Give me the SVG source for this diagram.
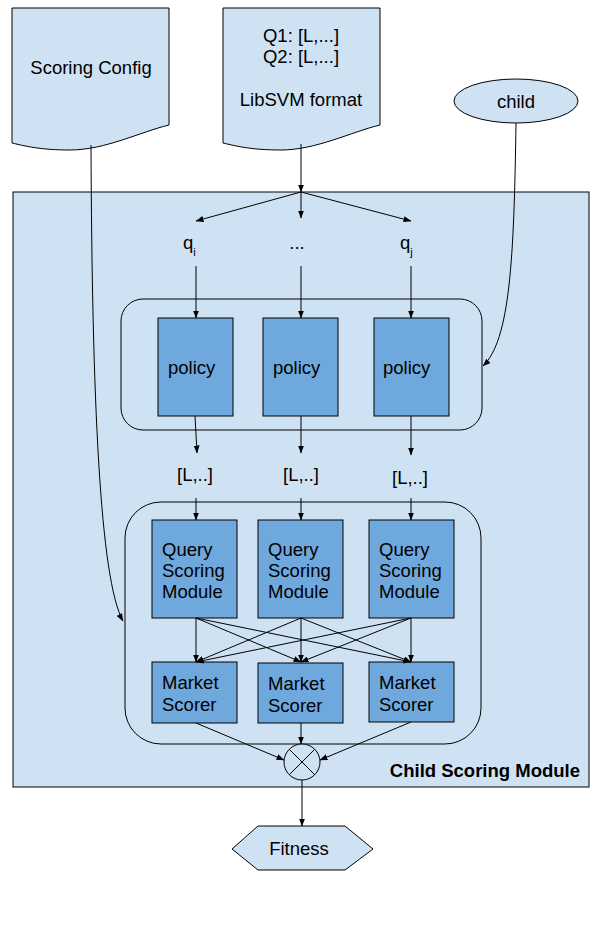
<svg xmlns="http://www.w3.org/2000/svg" width="602" height="930" viewBox="0 0 602 930">
<defs>
<marker id="ah" markerUnits="userSpaceOnUse" markerWidth="8" markerHeight="6" refX="7.5" refY="3" orient="auto">
<path d="M0,0 L8,3 L0,6 z" fill="#000"/>
</marker>
<style>
text{font-family:"Liberation Sans",Arial,sans-serif;font-size:18.5px;fill:#000}
.c{text-anchor:middle}
.doc{fill:#cfe2f3;stroke:#000;stroke-width:1}
.box{fill:#6fa8dc;stroke:#000;stroke-width:1}
.grp{fill:none;stroke:#000;stroke-width:1}
.ln{fill:none;stroke:#000;stroke-width:1}
.ar{fill:none;stroke:#000;stroke-width:1;marker-end:url(#ah)}
.b{font-weight:bold;text-anchor:end}
</style>
</defs>
<rect width="602" height="930" fill="#fff"/>
<g id="container">
<rect x="13" y="192" width="576" height="595" fill="#cfe2f3" stroke="#000" stroke-width="1"/>
<text class="b" x="580" y="777">Child Scoring Module</text>
</g>
<g id="scoring-config">
<path class="doc" d="M12,8 H169 V125 C140,132 105,150 70,150 C40,150 25,146 12,143 Z"/>
<text class="c" x="91" y="74">Scoring Config</text>
</g>
<g id="libsvm">
<path class="doc" d="M223,8 H380 V125 C351,132 316,150 281,150 C251,150 236,146 223,143 Z"/>
<text class="c" x="301" y="42">Q1: [L,...]</text>
<text class="c" x="301" y="63">Q2: [L,...]</text>
<text class="c" x="301" y="106">LibSVM format</text>
</g>
<g id="child">
<ellipse cx="516" cy="101" rx="62" ry="22" fill="#cfe2f3" stroke="#000" stroke-width="1"/>
<text class="c" x="516" y="108">child</text>
</g>
<g id="labels-q">
<text x="183" y="249">q<tspan font-size="11" dy="7">i</tspan></text>
<text class="c" x="297" y="249">...</text>
<text x="400" y="249">q<tspan font-size="11" dy="7">j</tspan></text>
</g>
<g id="policy-group">
<rect class="grp" x="121" y="299" width="361" height="131" rx="22"/>
</g>
<g id="policy1"><rect class="box" x="158" y="318" width="75" height="98"/><text x="168" y="374">policy</text></g>
<g id="policy2"><rect class="box" x="263" y="318" width="75" height="98"/><text x="273" y="374">policy</text></g>
<g id="policy3"><rect class="box" x="374" y="318" width="75" height="98"/><text x="383" y="374">policy</text></g>
<g id="labels-l">
<text class="c" x="195" y="481">[L,..]</text>
<text class="c" x="301" y="481">[L,..]</text>
<text class="c" x="410" y="484">[L,..]</text>
</g>
<g id="qsm-group">
<rect class="grp" x="125" y="502" width="356" height="242" rx="36"/>
</g>
<g id="qsm1"><rect class="box" x="152" y="520" width="85" height="98"/><text x="162" y="556">Query</text><text x="162" y="577">Scoring</text><text x="162" y="598">Module</text></g>
<g id="qsm2"><rect class="box" x="258" y="520" width="85" height="98"/><text x="268" y="556">Query</text><text x="268" y="577">Scoring</text><text x="268" y="598">Module</text></g>
<g id="qsm3"><rect class="box" x="369" y="520" width="85" height="98"/><text x="379" y="556">Query</text><text x="379" y="577">Scoring</text><text x="379" y="598">Module</text></g>
<g id="market1"><rect class="box" x="152" y="662" width="85" height="61"/><text x="162" y="689">Market</text><text x="162" y="711">Scorer</text></g>
<g id="market2"><rect class="box" x="258" y="663" width="85" height="60"/><text x="268" y="690">Market</text><text x="268" y="712">Scorer</text></g>
<g id="market3"><rect class="box" x="369" y="662" width="85" height="60"/><text x="379" y="689">Market</text><text x="379" y="711">Scorer</text></g>
<g id="combiner">
<circle cx="302" cy="762" r="18" fill="#cfe2f3" stroke="#000" stroke-width="1"/>
<path class="ln" d="M289.3,749.3 L314.7,774.7 M314.7,749.3 L289.3,774.7"/>
</g>
<g id="fitness">
<path d="M232,849 L258,826 H345 L373,849 L345,870 H258 Z" fill="#cfe2f3" stroke="#000" stroke-width="1"/>
<text class="c" x="299" y="855">Fitness</text>
</g>
<g id="connectors">
<path class="ar" d="M301,144 V192"/>
<path class="ar" d="M301,192 L196,221"/>
<path class="ar" d="M301,192 V218"/>
<path class="ar" d="M301,192 L411,221"/>
<path class="ar" d="M196,266 V318"/>
<path class="ar" d="M301,266 V318"/>
<path class="ar" d="M411,266 V318"/>
<path class="ar" d="M516,123 C514,260 510,340 483,366"/>
<path class="ar" d="M195,416 L197,453"/>
<path class="ar" d="M301,416 V453"/>
<path class="ar" d="M411,416 V455"/>
<path class="ar" d="M196,498 V520"/>
<path class="ar" d="M301,498 V520"/>
<path class="ar" d="M411,498 V520"/>
<path class="ar" d="M91,145 C92,400 100,580 123,621"/>
<path class="ar" d="M196,618 V662"/>
<path class="ar" d="M196,618 L301,662"/>
<path class="ar" d="M196,618 L411,662"/>
<path class="ar" d="M301,618 L196,662"/>
<path class="ar" d="M301,618 V662"/>
<path class="ar" d="M301,618 L411,662"/>
<path class="ar" d="M411,618 L196,662"/>
<path class="ar" d="M411,618 L301,662"/>
<path class="ar" d="M411,618 V662"/>
<path class="ar" d="M196,723 L284,760"/>
<path class="ar" d="M301,723 V744"/>
<path class="ar" d="M411,722 L320,760"/>
<path class="ar" d="M302,780 V826"/>
</g>
</svg>
